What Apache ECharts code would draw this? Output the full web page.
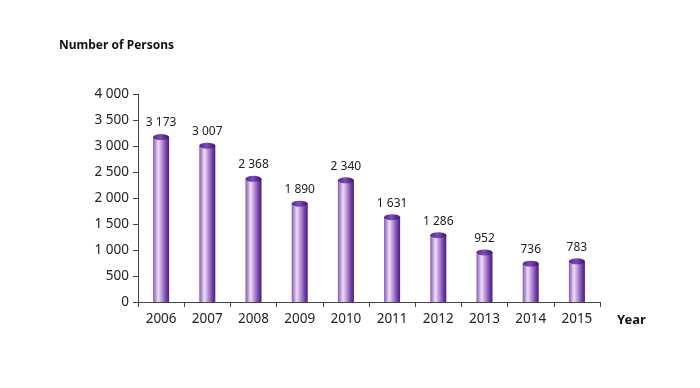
<!DOCTYPE html>
<html><head><meta charset="utf-8">
<script src="https://cdn.jsdelivr.net/npm/echarts@6/dist/echarts.min.js"></script>
<style>html,body{margin:0;padding:0;background:#fff}#c{width:700px;height:388px}</style>
</head><body><div id="c"></div>
<script>
const years = ['2006','2007','2008','2009','2010','2011','2012','2013','2014','2015'];
const persons = [3173, 3007, 2368, 1890, 2340, 1631, 1286, 952, 736, 783];
const yTicks = [0, 500, 1000, 1500, 2000, 2500, 3000, 3500, 4000];

function fmt(v){ return String(v).replace(/\B(?=(\d{3})+(?!\d))/g, ' '); }
const font = 'Noto Sans';
const chart = echarts.init(document.getElementById('c'));
const bodyGrad = new echarts.graphic.LinearGradient(0,0,1,0,[
  {offset:0, color:'#8455b4'},
  {offset:0.32, color:'#eddff7'},
  {offset:0.55, color:'#b992d8'},
  {offset:0.82, color:'#7040a4'},
  {offset:1, color:'#4a1b80'}
]);
const capGrad = new echarts.graphic.LinearGradient(0,0,1,0,[
  {offset:0, color:'#54238c'},
  {offset:0.45, color:'#7e4db6'},
  {offset:1, color:'#3c106c'}
]);
chart.setOption({
  animation:false,
  grid:{left:138, right:100, top:94, bottom:86},
  graphic:[
    {type:'text', left:59, top:40, style:{text:'Number of Persons', font:'bold 12px "Noto Sans"', fill:'#111'}},
    {type:'text', left:617, top:314, style:{text:'Year', font:'bold 13px "Noto Sans"', fill:'#111'}}
  ],
  xAxis:{type:'category', data:years,
    axisLine:{lineStyle:{color:'#444', width:1}},
    axisTick:{show:true, length:5, lineStyle:{color:'#444'}},
    axisLabel:{color:'#222', fontSize:13.5, fontFamily:font, margin:10}
  },
  yAxis:{type:'value', min:0, max:4000, interval:500,
    axisLine:{show:true, lineStyle:{color:'#444'}},
    axisTick:{show:true, length:5, lineStyle:{color:'#444'}},
    splitLine:{show:false},
    axisLabel:{color:'#222', fontSize:13.5, fontFamily:font, margin:9,
      formatter:v=>yTicks.includes(v)?fmt(v):''}
  },
  series:[
    {type:'bar', data:persons, barWidth:16, itemStyle:{color:bodyGrad},
      label:{show:true, position:'top', distance:8, color:'#222', fontSize:12, fontFamily:font, formatter:p=>fmt(p.value)}},
    {type:'pictorialBar', data:persons, symbol:'circle', symbolSize:[16,6], symbolPosition:'end',
      symbolOffset:[0,'-50%'], z:3, itemStyle:{color:capGrad}}
  ]
});
</script></body></html>
